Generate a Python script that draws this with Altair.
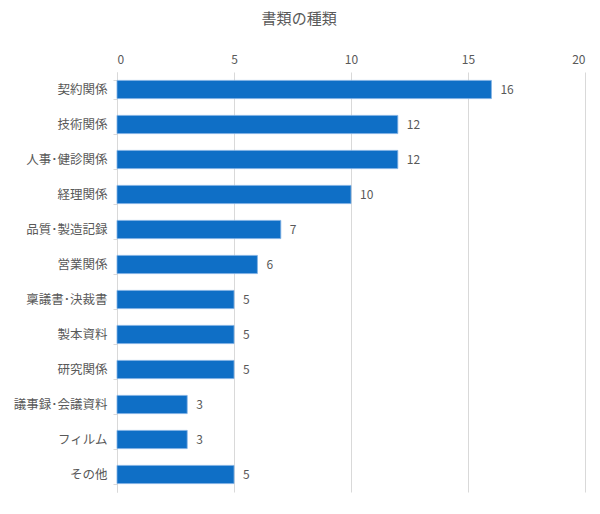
import altair as alt
import pandas as pd

categories = ["契約関係", "技術関係", "人事･健診関係", "経理関係", "品質･製造記録", "営業関係",
              "稟議書･決裁書", "製本資料", "研究関係", "議事録･会議資料", "フィルム", "その他"]
values = [16, 12, 12, 10, 7, 6, 5, 5, 5, 3, 3, 5]

df = pd.DataFrame({"category": categories, "value": values})

FONT = "Noto Sans CJK JP"
GRAY = "#595959"

y_enc = alt.Y("category:N", sort=categories, title=None,
              scale=alt.Scale(paddingInner=0.48, paddingOuter=0.24),
              axis=alt.Axis(labelFontSize=12.5, labelColor=GRAY, labelFont=FONT,
                            labelPadding=6, domainColor="#d9d9d9", tickColor="#d9d9d9",
                            tickSize=4, tickBand="extent", grid=False))

bars = alt.Chart(df).mark_bar(color="#0F6FC6", stroke="#7FB0E3", strokeWidth=0.8).encode(
    x=alt.X("value:Q", title=None,
            scale=alt.Scale(domain=[0, 20], nice=False),
            axis=alt.Axis(orient="top", values=[0, 5, 10, 15, 20], domain=False, ticks=False,
                          labelFontSize=12, labelColor=GRAY, labelFont=FONT, labelPadding=6,
                          gridColor="#d9d9d9", format="d")),
    y=y_enc,
)

labels = alt.Chart(df).mark_text(align="left", baseline="middle", dx=9, fontSize=12,
                                 color=GRAY, font=FONT).encode(
    x=alt.X("value:Q"),
    y=alt.Y("category:N", sort=categories),
    text=alt.Text("value:Q"),
)

chart = (bars + labels).properties(
    width=468, height=420,
    title=alt.TitleParams("書類の種類", fontSize=15, font=FONT, color=GRAY, fontWeight="normal",
                          anchor="middle", frame="bounds", offset=26),
    padding={"left": 109, "top": 64, "right": 5, "bottom": 10},
    autosize=alt.AutoSizeParams(type="none"),
).configure_view(stroke=None)

chart.save("out.html", embed_options={"renderer": "svg", "actions": False})
